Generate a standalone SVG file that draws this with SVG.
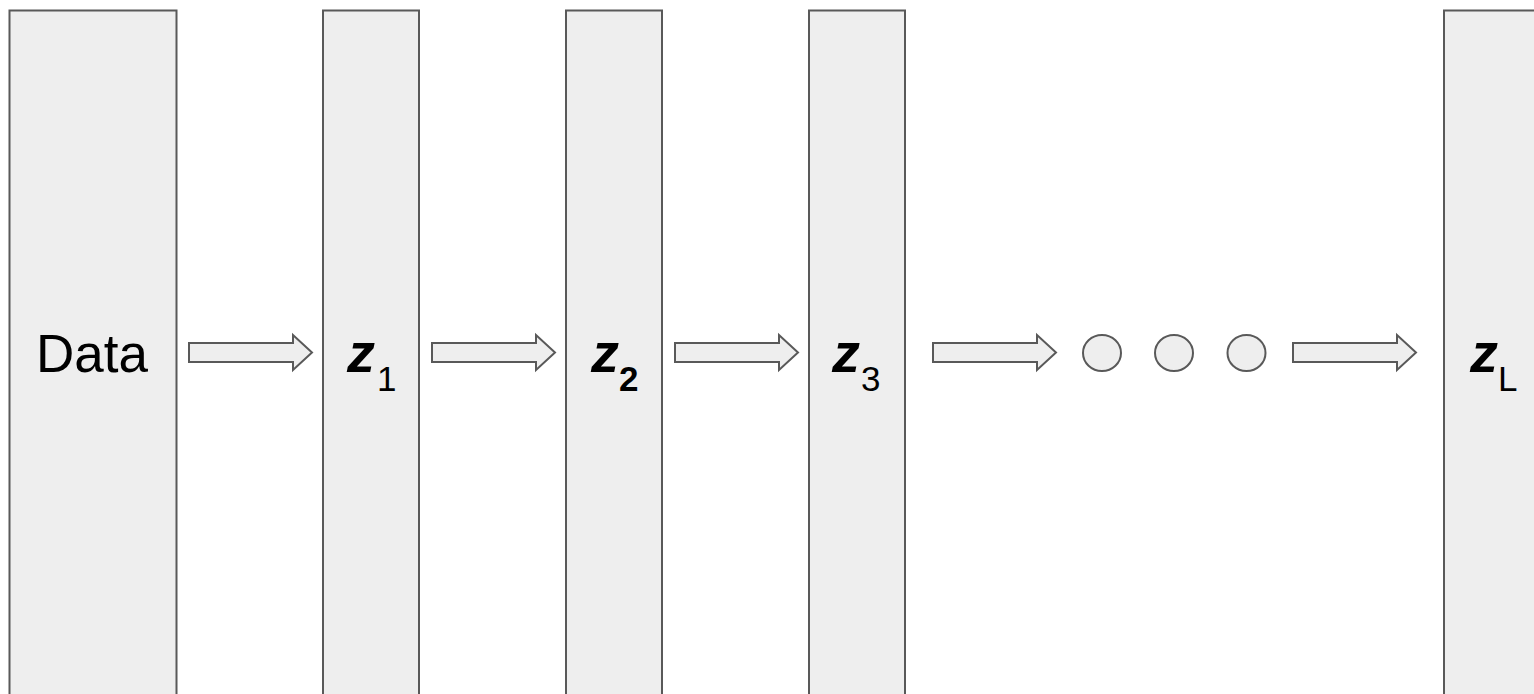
<svg xmlns="http://www.w3.org/2000/svg" width="1534" height="694" viewBox="0 0 1534 694">
  <style>
    .layer { fill: #eeeeee; stroke: #595959; stroke-width: 2; }
    .arrow { fill: #eeeeee; stroke: #595959; stroke-width: 2; stroke-linejoin: miter; }
    .dot { fill: #eeeeee; stroke: #595959; stroke-width: 2; }
    .lbl { font-family: "Liberation Sans", Arial, sans-serif; fill: #000000; }
    .z { font-weight: bold; font-style: italic; font-size: 56px; }
    .sub { font-size: 35px; }
    .subb { font-size: 35px; font-weight: bold; }
  </style>
  <defs>
    <polygon id="fat-arrow" points="0,343 104,343 104,335 123,352.5 104,370 104,362 0,362"/>
  </defs>
  <rect width="1534" height="694" fill="#ffffff"/>

  <g id="data">
    <rect class="layer" x="9.5" y="10.5" width="167" height="700"/>
    <text class="lbl" x="36" y="372" font-size="53">Data</text>
  </g>
  <g id="z1">
    <rect class="layer" x="323" y="10.5" width="96" height="700"/>
    <text class="lbl" x="347" y="372"><tspan class="z">z</tspan><tspan class="sub" dx="2" dy="19">1</tspan></text>
  </g>
  <g id="z2">
    <rect class="layer" x="566" y="10.5" width="96" height="700"/>
    <text class="lbl" x="591" y="372"><tspan class="z">z</tspan><tspan class="subb" dx="0" dy="19">2</tspan></text>
  </g>
  <g id="z3">
    <rect class="layer" x="809" y="10.5" width="96" height="700"/>
    <text class="lbl" x="832" y="372"><tspan class="z">z</tspan><tspan class="sub" dx="1" dy="19">3</tspan></text>
  </g>
  <g id="ellipsis">
    <ellipse class="dot" cx="1102" cy="353" rx="19" ry="18"/>
    <ellipse class="dot" cx="1174" cy="353" rx="19" ry="18"/>
    <ellipse class="dot" cx="1246.5" cy="353" rx="19" ry="18"/>
  </g>
  <g id="zL">
    <rect class="layer" x="1444" y="10.5" width="96" height="700"/>
    <text class="lbl" x="1470" y="372"><tspan class="z">z</tspan><tspan class="sub" dx="0" dy="19">L</tspan></text>
  </g>

  <g id="connectors">
    <use href="#fat-arrow" class="arrow" x="189"/>
    <use href="#fat-arrow" class="arrow" x="432"/>
    <use href="#fat-arrow" class="arrow" x="675"/>
    <use href="#fat-arrow" class="arrow" x="933"/>
    <use href="#fat-arrow" class="arrow" x="1293"/>
  </g>
</svg>
